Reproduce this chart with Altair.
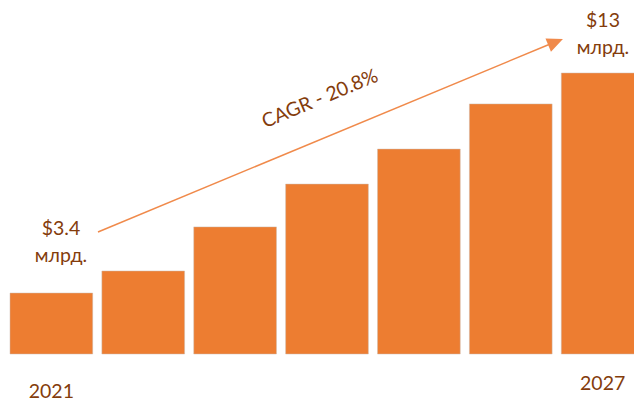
import altair as alt
import pandas as pd

# ---- data ----
years = ["2021", "2022", "2023", "2024", "2025", "2026", "2027"]
values = [2.82, 3.84, 5.88, 7.86, 9.48, 11.57, 13.0]  # market size, bn $

value_labels = ["$3.4\nмлрд.", "$13\nмлрд."]
year_labels = ["2021", "2027"]
cagr_label = "CAGR - 20.8%"

BAR = "#ED7D31"
TXT = "#843C0C"
ARROW = "#F08A4B"
FONT = "Lato"

df = pd.DataFrame({"year": years, "value": values})

xscale = alt.Scale(domain=years, range=[2, 636], paddingInner=0.1, paddingOuter=0)
yscale = alt.Scale(domain=[0, 13], range=[346, 65])

bars = alt.Chart(df).mark_bar(color=BAR, stroke="#cdb9ab", strokeWidth=0.7, strokeOpacity=0.7).encode(
    x=alt.X("year:N", scale=xscale, axis=None),
    y=alt.Y("value:Q", scale=yscale, axis=None),
)

layers = [bars]

# year labels (first and last only)
year_y = {"2021": 390, "2027": 390}
year_dy = {"2021": 0, "2027": -8}
for yl in year_labels:
    layers.append(
        alt.Chart(pd.DataFrame({"year": [yl]})).mark_text(
            font=FONT, fontSize=19.5, color=TXT, align="center", baseline="alphabetic",
            dy=year_dy[yl],
        ).encode(
            x=alt.X("year:N", scale=xscale, axis=None),
            y=alt.value(year_y[yl]),
            text="year:N",
        )
    )

# value annotations
label_pos = [(53, 227), (595, 19)]
for lab, (lx, ly) in zip(value_labels, label_pos):
    layers.append(
        alt.Chart(pd.DataFrame({"t": [lab]})).mark_text(
            font=FONT, fontSize=19.5, color=TXT, align="center", baseline="alphabetic",
            lineBreak="\n", lineHeight=27,
        ).encode(x=alt.value(lx), y=alt.value(ly), text="t:N")
    )

# CAGR arrow
arrow_line = alt.Chart(pd.DataFrame({"a": [0]})).mark_rule(color=ARROW, strokeWidth=1.5).encode(
    x=alt.value(90), y=alt.value(224), x2=alt.value(541), y2=alt.value(36.5)
)
arrow_head = alt.Chart(pd.DataFrame({"a": [0]})).mark_point(
    shape="M0,-1L0.65,0.45L-0.65,0.45Z", filled=True, color=ARROW, opacity=1,
    size=484, angle=67.5,
).encode(x=alt.value(544.8), y=alt.value(35.2))

cagr = alt.Chart(pd.DataFrame({"t": [cagr_label]})).mark_text(
    font=FONT, fontSize=19.5, color=TXT, align="center", baseline="middle", angle=337.4,
).encode(x=alt.value(312), y=alt.value(91), text="t:N")

layers += [arrow_line, arrow_head, cagr]

chart = alt.layer(*layers).properties(
    width=626, height=396, padding=0, background="white",
    autosize=alt.AutoSizeParams(type="none"),
).configure_view(strokeWidth=0)

chart.save("out.html", embed_options={"renderer": "svg", "actions": False})
